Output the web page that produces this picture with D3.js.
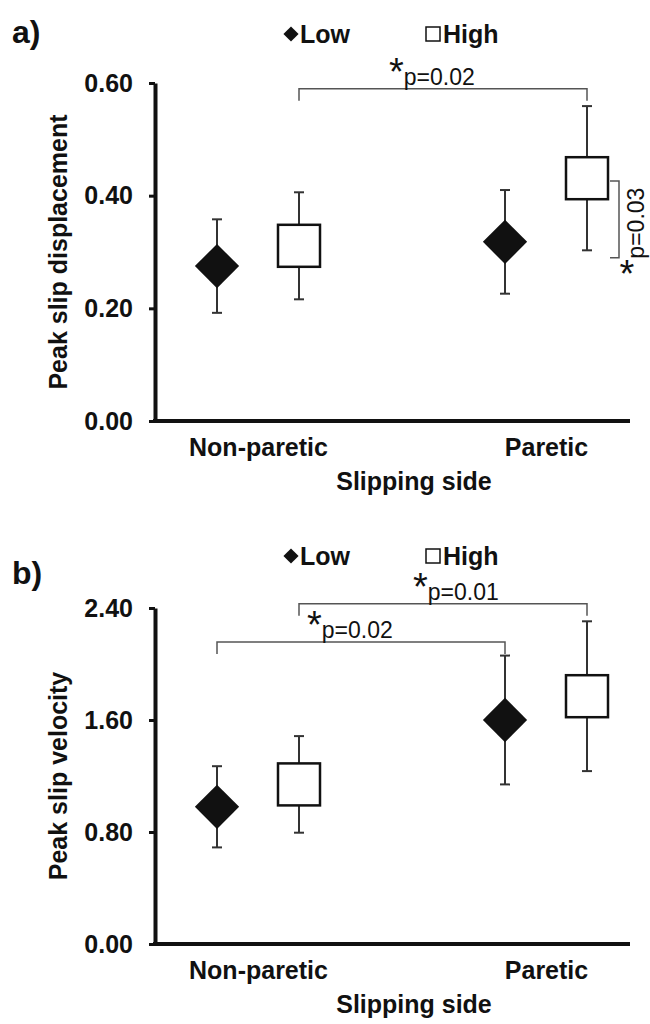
<!DOCTYPE html>
<html>
<head>
<meta charset="utf-8">
<script src="https://cdn.jsdelivr.net/npm/d3@7"></script>
<style>
body { margin: 0; background: #fff; }
text { font-family: "Liberation Sans", Arial, sans-serif; fill: #111; }
</style>
</head>
<body>
<div id="chart"></div>
<script>
var categories = ["Non-paretic", "Paretic"];
var series = ["Low", "High"];

// peak slip displacement, mean and error bar half length
var dispLow = [0.275, 0.318];
var dispLowErr = [0.083, 0.092];
var dispHigh = [0.311, 0.431];
var dispHighErr = [0.095, 0.128];
var dispTicks = [0, 0.2, 0.4, 0.6];

// peak slip velocity
var velLow = [0.98, 1.60];
var velLowErr = [0.29, 0.46];
var velHigh = [1.14, 1.77];
var velHighErr = [0.345, 0.535];
var velTicks = [0, 0.8, 1.6, 2.4];

// significance brackets (level in data units)
var dispBrackets = [
    {a: ["Non-paretic", "High"], b: ["Paretic", "High"], level: 0.59, label: "p=0.02"}
];
var dispSide = [
    {cat: "Paretic", top: 0.426, bottom: 0.29, label: "p=0.03"}
];
var velBrackets = [
    {a: ["Non-paretic", "Low"], b: ["Paretic", "Low"], level: 2.157, label: "p=0.02"},
    {a: ["Non-paretic", "High"], b: ["Paretic", "High"], level: 2.43, label: "p=0.01"}
];

var width = 650, height = 1024;
var left = 155, right = 630;

var svg = d3.select("#chart").append("svg")
    .attr("width", width)
    .attr("height", height);

var drawPanel = function(opt) {
    var g = svg.append("g");

    var y = d3.scaleLinear().domain([0, opt.max]).range([opt.bottom, opt.top]);
    var x = d3.scalePoint().domain(categories).range([258, 546]);
    var off = d3.scalePoint().domain(series).range([-41, 41]);

    var points = [];
    series.forEach(function(s) {
        categories.forEach(function(c, i) {
            points.push({cat: c, ser: s, mean: opt.values[s][i], err: opt.errs[s][i]});
        });
    });
    var px = function(d) { return x(d.cat) + off(d.ser); };

    // panel letter
    g.append("text")
        .attr("x", 12)
        .attr("y", opt.letterY)
        .attr("font-size", 32)
        .attr("font-weight", "bold")
        .text(opt.letter);

    // legend
    var leg = g.append("g").attr("transform", "translate(0," + opt.legendY + ")");
    leg.append("path")
        .attr("d", d3.symbol(d3.symbolSquare, 115)())
        .attr("transform", "translate(291,0) rotate(45)")
        .attr("fill", "#111");
    leg.append("text").attr("x", 300).attr("y", 9)
        .attr("font-size", 25).attr("font-weight", "bold").text("Low");
    leg.append("rect")
        .attr("x", 426).attr("y", -7).attr("width", 14).attr("height", 14)
        .attr("fill", "#fff").attr("stroke", "#111").attr("stroke-width", 1.5);
    leg.append("text").attr("x", 443).attr("y", 9)
        .attr("font-size", 25).attr("font-weight", "bold").text("High");

    // y axis
    g.append("g")
        .attr("transform", "translate(" + left + ",0)")
        .call(d3.axisLeft(y)
            .tickValues(opt.ticks)
            .tickFormat(d3.format(".2f"))
            .tickSize(6)
            .tickSizeOuter(0)
            .tickPadding(16))
        .attr("font-family", null)
        .attr("font-size", 25)
        .attr("font-weight", "bold")
        .call(function(a) { a.select(".domain").attr("stroke", "#111").attr("stroke-width", 4); })
        .call(function(a) { a.selectAll(".tick line").attr("stroke", "#111").attr("stroke-width", 3); })
        .call(function(a) { a.selectAll(".tick text").attr("fill", "#111"); });

    // x axis
    g.append("line")
        .attr("x1", left - 2).attr("x2", right)
        .attr("y1", y(0)).attr("y2", y(0))
        .attr("stroke", "#111").attr("stroke-width", 4);
    g.append("g")
        .attr("transform", "translate(0," + y(0) + ")")
        .call(d3.axisBottom(x).tickSize(0).tickPadding(17))
        .attr("font-family", null)
        .attr("font-size", 25)
        .attr("font-weight", "bold")
        .call(function(a) { a.select(".domain").remove(); })
        .call(function(a) { a.selectAll(".tick text").attr("fill", "#111"); });

    g.append("text")
        .attr("x", 414)
        .attr("y", y(0) + 69)
        .attr("text-anchor", "middle")
        .attr("font-size", 25)
        .attr("font-weight", "bold")
        .text("Slipping side");

    g.append("text")
        .attr("transform", "translate(67," + (opt.top + opt.bottom) / 2 + ") rotate(-90)")
        .attr("text-anchor", "middle")
        .attr("font-size", 25)
        .attr("font-weight", "bold")
        .text(opt.ylabel);

    // error bars
    var eb = g.selectAll(".eb").data(points).enter().append("g").attr("class", "eb");
    eb.append("line")
        .attr("x1", px).attr("x2", px)
        .attr("y1", function(d) { return y(d.mean - d.err); })
        .attr("y2", function(d) { return y(d.mean + d.err); })
        .attr("stroke", "#333").attr("stroke-width", 2);
    eb.selectAll(".cap")
        .data(function(d) { return [d.mean - d.err, d.mean + d.err].map(function(v) { return {x: px(d), v: v}; }); })
        .enter().append("line")
        .attr("x1", function(c) { return c.x - 5; })
        .attr("x2", function(c) { return c.x + 5; })
        .attr("y1", function(c) { return y(c.v); })
        .attr("y2", function(c) { return y(c.v); })
        .attr("stroke", "#333").attr("stroke-width", 2);

    // markers
    g.selectAll(".low").data(points.filter(function(d) { return d.ser == "Low"; }))
        .enter().append("path")
        .attr("d", d3.symbol(d3.symbolSquare, 980)())
        .attr("transform", function(d) { return "translate(" + px(d) + "," + y(d.mean) + ") rotate(45)"; })
        .attr("fill", "#111");
    g.selectAll(".high").data(points.filter(function(d) { return d.ser == "High"; }))
        .enter().append("rect")
        .attr("x", function(d) { return px(d) - 21; })
        .attr("y", function(d) { return y(d.mean) - 21; })
        .attr("width", 42).attr("height", 42)
        .attr("fill", "#fff").attr("stroke", "#111").attr("stroke-width", 2.5);

    // significance brackets
    var line = d3.line();
    opt.brackets.forEach(function(b, i) {
        var x1 = x(b.a[0]) + off(b.a[1]), x2 = x(b.b[0]) + off(b.b[1]);
        var yl = y(b.level);
        g.append("path")
            .attr("d", line([[x1, yl + 12], [x1, yl], [x2, yl], [x2, yl + 12]]))
            .attr("fill", "none").attr("stroke", "#555").attr("stroke-width", 1.5);
        var t = g.append("text")
            .attr("x", (x1 + x2) / 2 - 54 + (opt.labelNudge[i] || 0))
            .attr("y", yl - 4);
        t.append("tspan").attr("font-size", 38).text("*");
        t.append("tspan").attr("font-size", 23).text(b.label);
    });

    // vertical bracket beside a box, label reads bottom to top
    opt.side.forEach(function(s) {
        var xr = x(s.cat) + off("High") + 23;
        var y1 = y(s.top), y2 = y(s.bottom);
        g.append("path")
            .attr("d", line([[xr, y1], [xr + 9, y1], [xr + 9, y2], [xr, y2]]))
            .attr("fill", "none").attr("stroke", "#555").attr("stroke-width", 1.5);
        g.append("text")
            .attr("transform", "translate(644," + (y2 + 1) + ") rotate(-90)")
            .attr("font-size", 23)
            .text(s.label);
        g.append("text")
            .attr("x", xr + 17)
            .attr("y", y2 + 29)
            .attr("text-anchor", "middle")
            .attr("font-size", 38)
            .text("*");
    });
};

drawPanel({
    letter: "a)", letterY: 43, legendY: 34,
    top: 83, bottom: 421, max: 0.6,
    ticks: dispTicks,
    ylabel: "Peak slip displacement",
    values: {Low: dispLow, High: dispHigh},
    errs: {Low: dispLowErr, High: dispHighErr},
    brackets: dispBrackets, side: dispSide, labelNudge: [0]
});

drawPanel({
    letter: "b)", letterY: 584, legendY: 556,
    top: 608, bottom: 944, max: 2.4,
    ticks: velTicks,
    ylabel: "Peak slip velocity",
    values: {Low: velLow, High: velHigh},
    errs: {Low: velLowErr, High: velHighErr},
    brackets: velBrackets, side: [], labelNudge: [0, 24]
});
</script>
</body>
</html>
